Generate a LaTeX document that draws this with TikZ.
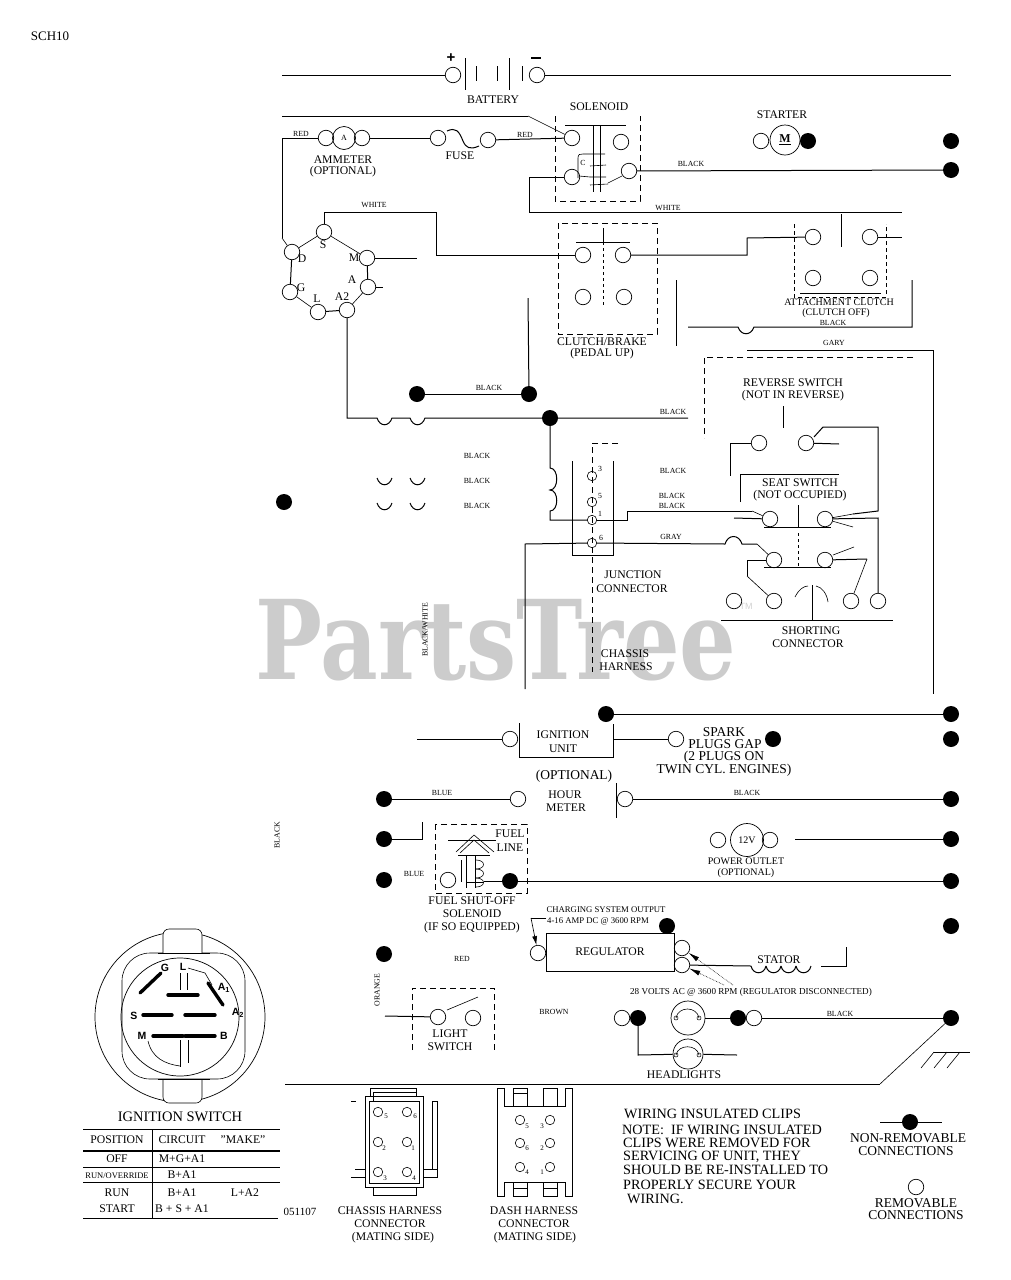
\documentclass[tikz,border=0pt]{standalone}
\usepackage{fontspec}
\setmainfont{Liberation Serif}
\setsansfont{Liberation Sans}
\newfontfamily\wmfont{DejaVu Serif}
\usetikzlibrary{arrows.meta}
\newcounter{labc}
\tikzset{
 wire/.style={line width=1pt,line join=miter},
 thin wire/.style={line width=0.6pt},
 term/.style={circle,draw,line width=0.7pt,minimum size=15.5pt,inner sep=0pt},
 smallterm/.style={circle,draw,line width=0.6pt,minimum size=9.5pt,inner sep=0pt},
 bigcirc/.style={circle,draw,line width=0.7pt,inner sep=0pt},
 blob/.style={circle,fill=black,draw=none,minimum size=16pt,inner sep=0pt},
 dashbox/.style={line width=1pt,dash pattern=on 6pt off 4pt},
 lab/.style={inner sep=0pt,font=\fontsize{11.7}{12}\selectfont,align=center},
 tiny lab/.style={inner sep=0pt,font=\fontsize{7.8}{8}\selectfont},
 key lab/.style={inner sep=0pt,font=\sffamily\bfseries\fontsize{10.5}{11}\selectfont},
 note lab/.style={inner sep=0pt,anchor=west,font=\fontsize{14.2}{15}\selectfont},
 leg lab/.style={inner sep=0pt,font=\fontsize{13.5}{14}\selectfont},
 spark lab/.style={inner sep=0pt,font=\fontsize{13.5}{14}\selectfont},
 bar/.style={line width=3.4pt,line cap=round},
}
\newcommand\lbl[4][lab]{\stepcounter{labc}\node[#1] (lab\thelabc) at (#2) {#3#4};}
\begin{document}
\begin{tikzpicture}[x=1pt,y=-1pt]
\useasboundingbox (0,0) rectangle (1011,1280);
% watermark
\node[inner sep=0pt,text=black!20,font=\wmfont\bfseries\fontsize{110}{110}\selectfont,xscale=0.81,anchor=base] (wm) at (496,679) {PartsTree};
\node[inner sep=0pt,text=black!18,font=\sffamily\fontsize{9}{9}\selectfont] (tm) at (746,606) {TM};

\lbl{50,36}{\fontsize{13}{13}\selectfont}{SCH10}
\lbl[tiny lab,rotate=90]{277,835}{}{BLACK}

% ---- terminals
\foreach \n/\x/\y in {bp/453/75,bm/537/75,am1/326/138,am2/362/138,fu1/438/138,fu2/488/140,
 so1/572/138,so2/621/142,so3/572/177,so4/629/171,
 igS/324/232,igD/292/252,igM/367/258,igA/368/287,igG/290/292,igL/318/312,igB/347/310,
 cl1/583/255,cl2/623/255,cl3/583/297,cl4/624/297,
 at1/813/237,at2/870/237,at3/813/278,at4/870/278,
 st1/761/141,
 rs1/759/443,rs2/806/443,ss1/770/519,ss2/825/519,ss3/774/560,ss4/825/560,
 sh1/734/601,sh2/774/601,sh3/851/601,sh4/878/601,
 iu1/510/739,iu2/676/739,hm1/518/799,hm2/625/799,
 po1/718/840,po2/770/840,fs1/448/880,
 rg1/538/953,rg2/682/948,rg3/682/965,ls1/438/1017,ls2/473/1018,
 hl1/622/1018,hl2/754/1018,leg/916/1187}
 \node[term] (\n) at (\x,\y) {};
\foreach \n/\x/\y in {j3/592/476,j5/592/502,j1/592/520,j6/592/543,
 ch1/378/1112,ch2/407/1112,ch3/378/1142,ch4/407/1142,ch5/378/1172,ch6/407/1172,
 da1/520/1120,da2/550/1120,da3/520/1143,da4/550/1143,da5/520/1167,da6/550/1167}
 \node[smallterm] (\n) at (\x,\y) {};

% ---- solid joints
\foreach \n/\x/\y in {d1/951/141,d2/951/170,d3/808/141,d4/417/394,d5/529/394,d6/550/418,d7/284/502,
 d8/606/714,d9/951/714,d10/773/739,d11/951/739,d12/384/799,d13/951/799,d14/384/839,d15/951/839,
 d16/384/880,d17/510/881,d18/951/881,d19/667/926,d20/951/926,d21/384/954,d22/638/1018,d23/738/1018,
 d24/951/1018,d25/910/1122}
 \node[blob] (\n) at (\x,\y) {};

% ---- battery
\draw[wire] (282,75) -- (bp);
\draw[wire] (bm) -- (951,75);
\foreach \x/\a/\b in {465/58/90,476/66/81,497/66/81,509/58/90,522/66/81}
 \draw[wire] (\x,\a) -- (\x,\b);
\node[inner sep=0pt,font=\sffamily\bfseries\fontsize{15}{15}\selectfont] (plus) at (451,58) {+};
\draw[line width=2pt] (531,58) -- (541,58);
\lbl{493,100}{}{BATTERY}

% ---- ammeter, fuse, solenoid
\node[bigcirc,minimum size=23pt] (amm) at (344,138) {\fontsize{8}{8}\selectfont A};
\draw[wire] (282,238) -- (282,138) -- (am1);
\draw[wire] (am2) -- (fu1);
\draw[wire] (447,131) .. controls (456,127) and (459,131) .. (463,141) .. controls (466,148) and (470,150) .. (479,146);
\draw[wire] (fu2) -- (so1);
\draw[thin wire] (282,238) -- (igD);
\lbl[tiny lab]{301,134}{}{RED}
\lbl[tiny lab]{525,135}{}{RED}
\lbl{343,160}{}{AMMETER}
\lbl{343,172}{}{(OPTIONAL)}
\lbl{460,156}{}{FUSE}
\lbl{599,107}{}{SOLENOID}
\coordinate (tw) at (282,116);
\draw[wire] (tw) -- (528,116);
\draw[thin wire] (528,116) -- (so1);
\draw[dashbox] (555,116) -- (555,201) -- (640,201) -- (640,116);
\draw[wire] (565,125) -- (626,125);
\draw[wire] (593,125) -- (593,192) (600,125) -- (600,192);
\draw[thin wire] (578,178) -- (578,158) .. controls (578,154) and (580,154) .. (583,154) -- (605,154);
\draw[thin wire] (590,166) -- (606,165) (590,177) -- (606,177) (590,185) -- (608,184);
\draw[thin wire] (579,176) -- (590,177) (608,183) -- (622,176);
\lbl[tiny lab]{583,163}{}{C}
\draw[wire] (so4) -- (d2);
\lbl[tiny lab]{691,164}{}{BLACK}
\draw[wire] (so3) -- (529,177) -- (529,212) -- (902,212);
\lbl[tiny lab]{668,208}{}{WHITE}

% ---- starter
\node[bigcirc,minimum size=30pt,font=\bfseries\fontsize{12}{12}\selectfont] (mot) at (785,140) {\underline{M}};
\lbl{782,115}{}{STARTER}

% ---- key switch wiring
\draw[thin wire] (igD) -- (igS) (igS) -- (igM);
\draw[wire] (igD) -- (igG);
\draw[wire] (igM) -- (igA);
\draw[thin wire] (igG) -- (igL);
\draw[wire] (igL) -- (igB);
\draw[thin wire] (igB) -- (igA);
\draw[wire] (igM) -- (417,258);
\draw[wire] (igA) -- (383,287);
\draw[wire] (igS) -- (324,212) -- (436,212) -- (436,255) -- (cl1);
\lbl[tiny lab]{374,205}{}{WHITE}
\node[lab,inner sep=0pt] (lS) at (323,245) {S};
\node[lab,inner sep=0pt] (lD) at (302,259) {D};
\node[lab,inner sep=0pt] (lM) at (354,258) {M};
\node[lab,inner sep=0pt] (lA) at (352,280) {A};
\node[lab,inner sep=0pt] (lG) at (301,288) {G};
\node[lab,inner sep=0pt] (lL) at (317,299) {L};
\node[lab,inner sep=0pt] (lB) at (342,297) {A2};

% ---- clutch / brake
\draw[dashbox] (558,223) rectangle (657,334);
\draw[wire] (576,242) -- (630,242);
\draw[wire] (603,228) -- (603,242);
\draw[wire,dashed] (603,242) -- (603,306);
\draw[wire] (cl2) -- (747,255) -- (747,238) -- (at1);
\lbl{602,342}{}{CLUTCH/BRAKE}
\lbl{602,354}{}{(PEDAL UP)}
\draw[wire] (528,298) -- (d5);
\draw[wire] (d4) -- (d5);
\lbl[tiny lab]{489,388}{}{BLACK}

% ---- attachment clutch
\draw[line width=1pt,dash pattern=on 4pt off 3pt] (794,224) -- (794,297) -- (886,297) -- (886,224);
\draw[wire] (800,293) -- (881,293);
\draw[wire] (841,214) -- (841,247);
\draw[wire] (at2) -- (902,237);
\lbl[lab,font=\fontsize{10}{10}\selectfont]{839,302}{}{ATTACHMENT CLUTCH}
\lbl[lab,font=\fontsize{10}{10}\selectfont]{836,313}{}{(CLUTCH OFF)}
\lbl[tiny lab]{833,323}{}{BLACK}
\coordinate (b0a) at (738,327);\coordinate (b0b) at (754,327);
\draw[wire] (688,327) -- (b0a) .. controls +(3,9) and +(-3,9) .. (b0b) -- (912,327) -- (912,280);
\draw[wire] (676,280) -- (676,346);
\draw[wire] (747,350) -- (933,350) -- (933,694);
\lbl[tiny lab]{834,343}{}{GARY}
\draw[dashbox] (913,357) -- (704,357) -- (704,438);

% ---- main black line
\foreach \n/\x in {c1/377,c2/410} {\coordinate (\n a) at (\x,418);\coordinate (\n b) at (\x+15,418);}
\draw[wire] (igB) -- (347,418) -- (c1a) .. controls +(3,9) and +(-3,9) .. (c1b) -- (c2a) .. controls +(3,9) and +(-3,9) .. (c2b) -- (d6) -- (688,418);
\lbl[tiny lab]{673,412}{}{BLACK}
\foreach \n/\x/\y in {c3/377/478,c4/410/478,c5/377/503,c6/410/503} {
 \coordinate (\n a) at (\x,\y);\coordinate (\n b) at (\x+15,\y);
 \draw[wire] (\n a) .. controls +(3,9) and +(-3,9) .. (\n b);}
\lbl[tiny lab]{477,456}{}{BLACK}
\lbl[tiny lab]{477,481}{}{BLACK}
\lbl[tiny lab]{477,506}{}{BLACK}
\lbl[tiny lab,rotate=90]{425,630}{}{BLACK/WHITE}

% ---- junction connector
\draw[wire] (d6) -- (550,468) .. controls (559,468) and (559,490) .. (550,490) .. controls (559,490) and (559,511) .. (550,511) -- (550,520) -- (j1);
\draw[wire] (572,461) -- (572,555) -- (613,555) -- (613,461);
\draw[dashbox] (618,443) -- (592,443) -- (592,672);
\draw[wire] (j1) -- (627,520) -- (627,511) -- (752,511);
\draw[thin wire] (752,511) -- (ss1);
\coordinate (g1a) at (725,544);\coordinate (g1b) at (742,544);
\draw[wire] (525,689) -- (525,544) -- (j6) -- (g1a) .. controls +(3,-10) and +(-3,-10) .. (g1b) -- (757,544);
\draw[thin wire] (757,544) -- (ss3);
\lbl[tiny lab]{600,469}{}{3}
\lbl[tiny lab]{600,496}{}{5}
\lbl[tiny lab]{600,514}{}{1}
\lbl[tiny lab]{601,538}{}{6}
\lbl[tiny lab]{673,471}{}{BLACK}
\lbl[tiny lab]{672,496}{}{BLACK}
\lbl[tiny lab]{672,506}{}{BLACK}
\lbl[tiny lab]{671,537}{}{GRAY}
\lbl{633,575}{}{JUNCTION}
\lbl{632,589}{}{CONNECTOR}
\lbl{625,654}{}{CHASSIS}
\lbl{626,667}{}{HARNESS}

% ---- reverse & seat switch
\lbl{793,383}{}{REVERSE SWITCH}
\lbl{793,396}{}{(NOT IN REVERSE)}
\draw[wire] (783,406) -- (783,428);
\draw[wire] (rs1) -- (730,443) -- (730,476);
\draw[wire] (rs2) -- (839,444);
\draw[wire] (814,437) -- (823,427) -- (878,427) -- (878,511) -- (853,514);
\draw[thin wire] (853,514) -- (ss2);
\draw[wire] (740,502) -- (740,474) -- (839,474);
\lbl{800,483}{}{SEAT SWITCH}
\lbl{800,496}{}{(NOT OCCUPIED)}
\draw[wire] (798,505) -- (798,527);
\draw[wire] (764,527) -- (831,527);
\draw[wire] (734,518) -- (ss1);
\draw[thin wire] (ss2) -- (853,527);
\draw[wire] (ss2) -- (878,518) -- (sh4);
\draw[wire,dashed] (798,533) -- (798,567);
\draw[wire] (764,567) -- (831,567);
\draw[thin wire] (833,555) -- (854,547);
\draw[wire] (ss4) -- (867,559);
\draw[thin wire] (867,559) -- (sh3);
\draw[wire] (ss3) -- (747,560) -- (747,576);
\draw[thin wire] (747,576) -- (sh2);
\draw[wire] (721,620) -- (893,620);
\draw[wire] (812,585) -- (812,620);
\draw[thin wire] (795,597) .. controls (799,589) and (804,586) .. (808,586);
\draw[thin wire] (816,586) .. controls (822,587) and (827,594) .. (828,602);
\lbl{811,631}{}{SHORTING}
\lbl{808,644}{}{CONNECTOR}

% ---- ignition unit
\draw[wire] (417,739) -- (iu1);
\draw[wire] (519,723) -- (519,757) -- (613,757) -- (613,724);
\lbl{563,735}{}{IGNITION}
\lbl{563,749}{}{UNIT}
\draw[wire] (613,739) -- (iu2);
\draw[wire] (d8) -- (d9);
\lbl[spark lab]{724,732}{}{SPARK}
\lbl[spark lab]{725,744}{}{PLUGS GAP}
\lbl[spark lab]{724,757}{}{(2 PLUGS ON}
\lbl[spark lab]{724,770}{}{TWIN CYL. ENGINES)}
\lbl[spark lab]{574,776}{}{(OPTIONAL)}

% ---- hour meter
\draw[wire] (d12) -- (hm1);
\lbl[tiny lab]{442,793}{}{BLUE}
\lbl{565,795}{}{HOUR}
\lbl{566,808}{}{METER}
\draw[wire] (616,783) -- (616,818);
\draw[wire] (hm2) -- (d13);
\lbl[tiny lab]{747,793}{}{BLACK}

% ---- fuel solenoid
\draw[wire] (d14) -- (422,839) -- (422,822);
\draw[dashbox] (435,824) rectangle (527,893);
\draw[wire] (448,840) -- (496,840);
\lbl{510,834}{}{FUEL}
\lbl{510,848}{}{LINE}
\draw[thin wire] (456,852) -- (474,835) -- (494,852) (460,853) -- (474,840) -- (489,853);
\draw[wire] (458,855) -- (490,855);
\draw[wire] (466,855) -- (466,888) (475,855) -- (475,888);
\draw[thin wire] (461,860) -- (461,882);
\foreach \y in {860,869,878} \draw[thin wire] (476,\y) .. controls (486,\y) and (486,\y+9) .. (476,\y+9);
\draw[wire] (466,882) -- (484,882);
\draw[wire] (484,881) -- (d17);
\draw[wire] (d17) -- (d18);
\lbl[tiny lab]{414,874}{}{BLUE}
\lbl{472,901}{}{FUEL SHUT-OFF}
\lbl{472,914}{}{SOLENOID}
\lbl{472,928}{}{(IF SO EQUIPPED)}

% ---- power outlet
\node[bigcirc,minimum size=33pt,font=\fontsize{10}{10}\selectfont] (pout) at (747,840) {12V};
\draw[wire] (795,839) -- (d15);
\lbl[lab,font=\fontsize{10}{10}\selectfont]{746,861}{}{POWER OUTLET}
\lbl[lab,font=\fontsize{10}{10}\selectfont]{746,873}{}{(OPTIONAL)}

% ---- regulator, stator
\node[draw,line width=1pt,minimum width=128pt,minimum height=38pt,inner sep=0pt,font=\fontsize{11.7}{12}\selectfont] (reg) at (610,952) {REGULATOR};
\lbl[tiny lab,font=\fontsize{8.7}{9}\selectfont]{606,910}{}{CHARGING SYSTEM OUTPUT}
\lbl[tiny lab,font=\fontsize{8.7}{9}\selectfont]{598,921}{}{4-16 AMP DC @ 3600 RPM}
\coordinate (lead) at (546,918);
\draw[thin wire] (lead) -- (531,918);
\draw[thin wire,-{Latex[length=9pt,width=5pt]}] (531,918) -- (rg1);
\draw[wire] (rg3) -- (751,966);
\foreach \x in {751,766,781,796} \draw[wire] (\x,966) .. controls (\x+2,975) and (\x+13,975) .. (\x+15,966);
\draw[wire] (821,966) -- (846,966) -- (846,947);
\lbl{779,960}{}{STATOR}
\coordinate (v1) at (733,985);\coordinate (v2) at (724,985);
\draw[thin wire,densely dotted,-{Latex[length=11pt,width=5pt]}] (v1) -- (rg2);
\draw[thin wire,densely dotted,-{Latex[length=11pt,width=5pt]}] (v2) -- (rg3);
\lbl[lab,font=\fontsize{9.1}{10}\selectfont]{751,992}{}{28 VOLTS AC @ 3600 RPM (REGULATOR DISCONNECTED)}
\lbl[tiny lab]{462,959}{}{RED}
\lbl[tiny lab,rotate=90]{377,990}{}{ORANGE}

% ---- light switch
\draw[dashbox] (412,1050) -- (412,988) -- (494,988) -- (494,1050);
\draw[wire] (385,1016) -- (ls1);
\draw[thin wire] (447,1010) -- (478,997);
\lbl{450,1034}{}{LIGHT}
\lbl{450,1047}{}{SWITCH}
\lbl[tiny lab]{554,1012}{}{BROWN}

% ---- headlights
\node[bigcirc,minimum size=34pt] (hla) at (688,1018) {};
\node[bigcirc,minimum size=30pt] (hlb) at (688,1054) {};
\draw[thin wire] (676,1018) .. controls (678,1006) and (697,1006) .. (699,1018);
\draw[thin wire] (676,1055) .. controls (678,1044) and (697,1044) .. (699,1055);
\foreach \n/\x/\y in {f1/676/1018,f2/699/1018,f3/676/1055,f4/699/1055} \node[circle,draw,line width=0.5pt,minimum size=4pt,inner sep=0pt] (\n) at (\x,\y) {};
\draw[wire] (hla) -- (d23);
\draw[wire] (hl2) -- (d24);
\draw[wire] (d22) -- (638,1055) -- (hlb);
\draw[wire] (hlb) -- (737,1055);
\lbl[tiny lab]{840,1014}{}{BLACK}
\lbl{684,1075}{}{HEADLIGHTS}

% ---- ground
\draw[wire] (285,1084) -- (880,1084);
\draw[thin wire] (880,1084) -- (d24);
\draw[wire] (934,1052) -- (970,1052);
\foreach \x in {934,947,960} \draw[thin wire] (\x,1052) -- (\x-13,1068);

% ---- ignition switch drawing
\node[bigcirc,minimum size=170pt] (oc) at (180,1017) {};
\node[bigcirc,minimum size=118pt] (ic) at (180,1017) {};
\draw[line width=0.6pt,rounded corners=28pt] (122,953) rectangle (245,1079);
\draw[line width=0.6pt,fill=white,rounded corners=6pt] (163,953) -- (163,929) -- (202,929) -- (202,953);
\draw[line width=0.6pt,fill=white,rounded corners=6pt] (163,1079) -- (163,1103) -- (202,1103) -- (202,1079);
\draw[line width=0.8pt] (158,953) -- (210,953) (158,1079) -- (210,1079);
\draw[bar] (140,993) -- (161,973);
\draw[bar] (168,995) -- (198,995);
\draw[bar] (208,983) -- (223,1005);
\draw[bar] (143,1015) -- (172,1015);
\draw[bar] (185,1015) -- (215,1015);
\draw[bar] (153,1036) -- (183,1036);
\draw[bar] (185,1036) -- (215,1036);
\draw[thin wire] (180,973) -- (180,990) (187,973) -- (187,990);
\draw[thin wire] (180,1040) -- (180,1067) (188,1040) -- (188,1063);
\draw[thin wire] (148,1041) .. controls (152,1058) and (165,1064) .. (180,1066);
\draw[thin wire] (188,968) -- (205,973) -- (212,985);
\lbl[key lab]{165,968}{}{G}
\lbl[key lab]{183,967}{}{L}
\lbl[key lab]{224,988}{}{A\textsubscript{1}}
\lbl[key lab]{238,1013}{}{A\textsubscript{2}}
\lbl[key lab]{134,1016}{}{S}
\lbl[key lab]{142,1036}{}{M}
\lbl[key lab]{224,1036}{}{B}
\lbl[lab,font=\fontsize{14.5}{15}\selectfont]{180,1117}{}{IGNITION SWITCH}

% ---- table
\draw[wire] (83,1129) -- (280,1129);
\draw[line width=1.6pt] (83,1151) -- (280,1151);
\draw[wire] (83,1167) -- (280,1167);
\draw[wire] (83,1182) -- (280,1182);
\draw[wire] (83,1218) -- (278,1218);
\draw[wire] (152,1129) -- (152,1218);
\lbl{117,1140}{}{POSITION}
\lbl{182,1140}{}{CIRCUIT}
\lbl{243,1140}{}{"MAKE"}
\lbl{117,1159}{}{OFF}
\lbl{182,1159}{}{M+G+A1}
\lbl[lab,font=\fontsize{8.5}{9}\selectfont]{117,1176}{}{RUN/OVERRIDE}
\lbl{182,1175}{}{B+A1}
\lbl{117,1193}{}{RUN}
\lbl{182,1193}{}{B+A1}
\lbl{245,1193}{}{L+A2}
\lbl{117,1209}{}{START}
\lbl{182,1209}{}{B + S + A1}
\lbl[lab,font=\fontsize{11}{11}\selectfont]{300,1212}{}{051107}

% ---- chassis connector
\draw[wire] (365,1096) rectangle (423,1187);
\draw[wire] (369,1101) rectangle (419,1183);
\draw[wire] (370,1096) -- (370,1088) -- (416,1088) -- (416,1096);
\draw[wire] (373,1101) -- (373,1092) -- (416,1092);
\draw[wire] (373,1187) -- (373,1195) -- (416,1195) -- (416,1187);
\draw[wire] (423,1169) -- (437,1169) (423,1177) -- (437,1177) -- (437,1101) -- (432,1101) -- (432,1169);
\draw[wire] (355,1169) -- (365,1169) (351,1177) -- (365,1177) (351,1101) -- (356,1101);
\foreach \x/\y/\t in {386/1116/5,415/1116/6,384/1148/2,413/1148/1,385/1178/3,414/1178/4}
 \node[inner sep=0pt,font=\fontsize{7}{7}\selectfont] (chl\t) at (\x,\y) {\t};
\lbl{390,1211}{}{CHASSIS HARNESS}
\lbl{390,1224}{}{CONNECTOR}
\lbl{393,1238}{}{(MATING SIDE)}

% ---- dash connector
\draw[wire] (504,1088) -- (497,1088) -- (497,1196) -- (504,1196) -- (504,1182) -- (565,1182) -- (565,1196) -- (572,1196) -- (572,1088) -- (565,1088) -- (565,1106) -- (504,1106) -- (504,1088);
\draw[wire] (513,1106) -- (513,1088) -- (527,1088) -- (527,1106) (513,1093) -- (527,1093);
\draw[wire] (543,1106) -- (543,1088) -- (557,1088) -- (557,1106);
\draw[wire] (513,1182) -- (513,1196) -- (527,1196) -- (527,1182) (513,1188) -- (527,1188);
\draw[wire] (543,1182) -- (543,1196) -- (557,1196) -- (557,1182) (543,1188) -- (557,1188);
\foreach \x/\y/\t/\n in {527/1126/5/a,527/1148/6/b,527/1172/4/c,542/1126/3/d,542/1148/2/e,542/1172/1/f}
 \node[inner sep=0pt,font=\fontsize{7}{7}\selectfont] (dal\n) at (\x,\y) {\t};
\lbl{534,1211}{}{DASH HARNESS}
\lbl{534,1224}{}{CONNECTOR}
\lbl{535,1238}{}{(MATING SIDE)}

% ---- notes
\lbl[note lab]{624,1114}{}{WIRING INSULATED CLIPS}
\lbl[note lab]{622,1130}{}{NOTE:\ \ IF WIRING INSULATED}
\lbl[note lab]{623,1143}{}{CLIPS WERE REMOVED FOR}
\lbl[note lab]{623,1157}{}{SERVICING OF UNIT, THEY}
\lbl[note lab]{623,1170}{}{SHOULD BE RE-INSTALLED TO}
\lbl[note lab]{623,1185}{}{PROPERLY SECURE YOUR}
\lbl[note lab]{627,1199}{}{WIRING.}

% ---- legend
\coordinate (lg1) at (880,1122);\coordinate (lg2) at (942,1122);
\draw[wire] (lg1) -- (d25) -- (lg2);
\lbl[leg lab]{908,1138}{}{NON-REMOVABLE}
\lbl[leg lab]{906,1151}{}{CONNECTIONS}
\lbl[leg lab]{916,1203}{}{REMOVABLE}
\lbl[leg lab]{916,1215}{}{CONNECTIONS}
\end{tikzpicture}
\end{document}
